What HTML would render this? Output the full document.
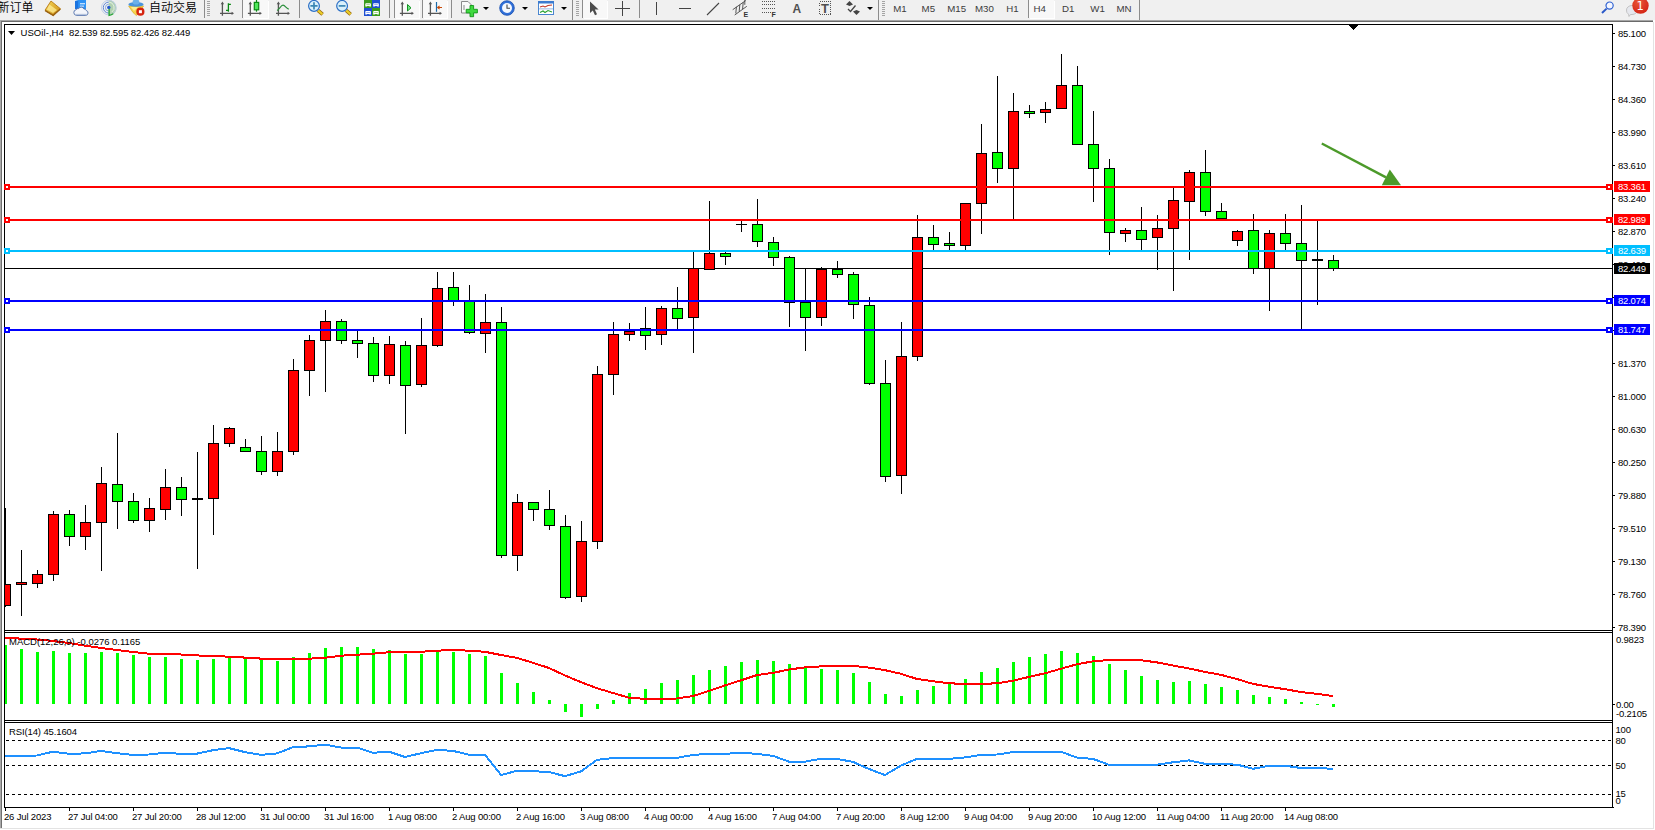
<!DOCTYPE html>
<html lang="zh"><head><meta charset="utf-8"><title>USOil H4</title>
<style>
html,body{margin:0;padding:0;background:#fff;}
body{width:1655px;height:830px;position:relative;overflow:hidden;font-family:"Liberation Sans","Noto Sans CJK SC",sans-serif;}
#tb{position:absolute;left:0;top:0;width:1655px;height:20px;background:#f0f0f0;overflow:hidden;}
#tb .t{position:absolute;white-space:nowrap;color:#000;}
#tb .sep{position:absolute;top:0;width:1px;height:18px;background:#8c8c8c;}
#tb .grip{position:absolute;top:1px;width:3px;height:16px;background:repeating-linear-gradient(#a4a4a4 0 1px,#f0f0f0 1px 2px);}
#tb .on{position:absolute;top:0;height:18px;background:#f8f8f8;box-shadow:1px 1px 0 #fff;}
#tb .tf{position:absolute;top:2.7px;font-size:9.7px;line-height:11px;color:#3c3c3c;}
</style></head><body>
<svg id="chart" width="1655" height="830" viewBox="0 0 1655 830" style="position:absolute;left:0;top:0">
<g shape-rendering="crispEdges">
<rect x="0" y="20" width="1653" height="1" fill="#a6a6a6"/>
<rect x="0" y="21" width="1653" height="1" fill="#6a6a6a"/>
<rect x="0" y="20" width="1" height="808" fill="#a9a9a9"/>
<rect x="1" y="21" width="1" height="807" fill="#707070"/>
<rect x="1653" y="22" width="1" height="807" fill="#e3e3e3"/>
<rect x="0" y="828" width="1654" height="1" fill="#e3e3e3"/>
<rect x="4" y="24" width="1609" height="1" fill="#000000"/>
<rect x="4" y="24" width="1" height="784" fill="#000000"/>
<rect x="1612" y="24" width="1" height="784" fill="#000000"/>
<rect x="4" y="630" width="1609" height="1" fill="#000000"/>
<rect x="4" y="632" width="1609" height="1" fill="#000000"/>
<rect x="4" y="720" width="1609" height="1" fill="#000000"/>
<rect x="4" y="722" width="1609" height="1" fill="#000000"/>
<rect x="4" y="807" width="1610" height="1" fill="#000000"/>
<rect x="5" y="631" width="1607" height="1" fill="#ffffff"/>
<rect x="5" y="721" width="1607" height="1" fill="#ffffff"/>
<rect x="1613" y="33" width="2" height="1" fill="#000000"/>
<rect x="1613" y="66" width="2" height="1" fill="#000000"/>
<rect x="1613" y="99" width="2" height="1" fill="#000000"/>
<rect x="1613" y="132" width="2" height="1" fill="#000000"/>
<rect x="1613" y="165" width="2" height="1" fill="#000000"/>
<rect x="1613" y="198" width="2" height="1" fill="#000000"/>
<rect x="1613" y="231" width="2" height="1" fill="#000000"/>
<rect x="1613" y="264" width="2" height="1" fill="#000000"/>
<rect x="1613" y="297" width="2" height="1" fill="#000000"/>
<rect x="1613" y="330" width="2" height="1" fill="#000000"/>
<rect x="1613" y="363" width="2" height="1" fill="#000000"/>
<rect x="1613" y="396" width="2" height="1" fill="#000000"/>
<rect x="1613" y="429" width="2" height="1" fill="#000000"/>
<rect x="1613" y="462" width="2" height="1" fill="#000000"/>
<rect x="1613" y="495" width="2" height="1" fill="#000000"/>
<rect x="1613" y="528" width="2" height="1" fill="#000000"/>
<rect x="1613" y="561" width="2" height="1" fill="#000000"/>
<rect x="1613" y="594" width="2" height="1" fill="#000000"/>
<rect x="1613" y="627" width="2" height="1" fill="#000000"/>
<polygon points="1349,25 1358,25 1353.5,30" fill="#000"/>
<rect x="5" y="268" width="1607" height="1" fill="#000000"/>
<rect x="5" y="508" width="1" height="99" fill="#000000"/>
<rect x="4" y="584" width="7" height="22" fill="#000000"/>
<rect x="5" y="585" width="5" height="20" fill="#ff0000"/>
<rect x="21" y="550" width="1" height="66" fill="#000000"/>
<rect x="16" y="582" width="11" height="3" fill="#000000"/>
<rect x="17" y="583" width="9" height="1" fill="#ff0000"/>
<rect x="37" y="570" width="1" height="18" fill="#000000"/>
<rect x="32" y="574" width="11" height="10" fill="#000000"/>
<rect x="33" y="575" width="9" height="8" fill="#ff0000"/>
<rect x="53" y="511" width="1" height="70" fill="#000000"/>
<rect x="48" y="514" width="11" height="61" fill="#000000"/>
<rect x="49" y="515" width="9" height="59" fill="#ff0000"/>
<rect x="69" y="510" width="1" height="36" fill="#000000"/>
<rect x="64" y="514" width="11" height="23" fill="#000000"/>
<rect x="65" y="515" width="9" height="21" fill="#00ff00"/>
<rect x="85" y="505" width="1" height="45" fill="#000000"/>
<rect x="80" y="522" width="11" height="15" fill="#000000"/>
<rect x="81" y="523" width="9" height="13" fill="#ff0000"/>
<rect x="101" y="467" width="1" height="104" fill="#000000"/>
<rect x="96" y="483" width="11" height="40" fill="#000000"/>
<rect x="97" y="484" width="9" height="38" fill="#ff0000"/>
<rect x="117" y="433" width="1" height="96" fill="#000000"/>
<rect x="112" y="484" width="11" height="18" fill="#000000"/>
<rect x="113" y="485" width="9" height="16" fill="#00ff00"/>
<rect x="133" y="493" width="1" height="30" fill="#000000"/>
<rect x="128" y="501" width="11" height="20" fill="#000000"/>
<rect x="129" y="502" width="9" height="18" fill="#00ff00"/>
<rect x="149" y="498" width="1" height="34" fill="#000000"/>
<rect x="144" y="508" width="11" height="13" fill="#000000"/>
<rect x="145" y="509" width="9" height="11" fill="#ff0000"/>
<rect x="165" y="469" width="1" height="51" fill="#000000"/>
<rect x="160" y="487" width="11" height="23" fill="#000000"/>
<rect x="161" y="488" width="9" height="21" fill="#ff0000"/>
<rect x="181" y="477" width="1" height="39" fill="#000000"/>
<rect x="176" y="487" width="11" height="13" fill="#000000"/>
<rect x="177" y="488" width="9" height="11" fill="#00ff00"/>
<rect x="197" y="452" width="1" height="117" fill="#000000"/>
<rect x="192" y="498" width="11" height="2" fill="#000000"/>
<rect x="213" y="425" width="1" height="110" fill="#000000"/>
<rect x="208" y="443" width="11" height="56" fill="#000000"/>
<rect x="209" y="444" width="9" height="54" fill="#ff0000"/>
<rect x="229" y="427" width="1" height="20" fill="#000000"/>
<rect x="224" y="428" width="11" height="16" fill="#000000"/>
<rect x="225" y="429" width="9" height="14" fill="#ff0000"/>
<rect x="245" y="439" width="1" height="13" fill="#000000"/>
<rect x="240" y="447" width="11" height="5" fill="#000000"/>
<rect x="241" y="448" width="9" height="3" fill="#00ff00"/>
<rect x="261" y="436" width="1" height="39" fill="#000000"/>
<rect x="256" y="451" width="11" height="21" fill="#000000"/>
<rect x="257" y="452" width="9" height="19" fill="#00ff00"/>
<rect x="277" y="432" width="1" height="44" fill="#000000"/>
<rect x="272" y="451" width="11" height="21" fill="#000000"/>
<rect x="273" y="452" width="9" height="19" fill="#ff0000"/>
<rect x="293" y="359" width="1" height="96" fill="#000000"/>
<rect x="288" y="370" width="11" height="82" fill="#000000"/>
<rect x="289" y="371" width="9" height="80" fill="#ff0000"/>
<rect x="309" y="335" width="1" height="61" fill="#000000"/>
<rect x="304" y="340" width="11" height="31" fill="#000000"/>
<rect x="305" y="341" width="9" height="29" fill="#ff0000"/>
<rect x="325" y="310" width="1" height="82" fill="#000000"/>
<rect x="320" y="321" width="11" height="20" fill="#000000"/>
<rect x="321" y="322" width="9" height="18" fill="#ff0000"/>
<rect x="341" y="319" width="1" height="25" fill="#000000"/>
<rect x="336" y="321" width="11" height="20" fill="#000000"/>
<rect x="337" y="322" width="9" height="18" fill="#00ff00"/>
<rect x="357" y="331" width="1" height="27" fill="#000000"/>
<rect x="352" y="340" width="11" height="4" fill="#000000"/>
<rect x="353" y="341" width="9" height="2" fill="#00ff00"/>
<rect x="373" y="337" width="1" height="45" fill="#000000"/>
<rect x="368" y="343" width="11" height="33" fill="#000000"/>
<rect x="369" y="344" width="9" height="31" fill="#00ff00"/>
<rect x="389" y="336" width="1" height="48" fill="#000000"/>
<rect x="384" y="344" width="11" height="32" fill="#000000"/>
<rect x="385" y="345" width="9" height="30" fill="#ff0000"/>
<rect x="405" y="341" width="1" height="93" fill="#000000"/>
<rect x="400" y="345" width="11" height="41" fill="#000000"/>
<rect x="401" y="346" width="9" height="39" fill="#00ff00"/>
<rect x="421" y="318" width="1" height="69" fill="#000000"/>
<rect x="416" y="345" width="11" height="40" fill="#000000"/>
<rect x="417" y="346" width="9" height="38" fill="#ff0000"/>
<rect x="437" y="272" width="1" height="75" fill="#000000"/>
<rect x="432" y="288" width="11" height="58" fill="#000000"/>
<rect x="433" y="289" width="9" height="56" fill="#ff0000"/>
<rect x="453" y="272" width="1" height="34" fill="#000000"/>
<rect x="448" y="287" width="11" height="14" fill="#000000"/>
<rect x="449" y="288" width="9" height="12" fill="#00ff00"/>
<rect x="469" y="285" width="1" height="49" fill="#000000"/>
<rect x="464" y="301" width="11" height="32" fill="#000000"/>
<rect x="465" y="302" width="9" height="30" fill="#00ff00"/>
<rect x="485" y="294" width="1" height="59" fill="#000000"/>
<rect x="480" y="322" width="11" height="12" fill="#000000"/>
<rect x="481" y="323" width="9" height="10" fill="#ff0000"/>
<rect x="501" y="307" width="1" height="251" fill="#000000"/>
<rect x="496" y="322" width="11" height="234" fill="#000000"/>
<rect x="497" y="323" width="9" height="232" fill="#00ff00"/>
<rect x="517" y="494" width="1" height="77" fill="#000000"/>
<rect x="512" y="502" width="11" height="54" fill="#000000"/>
<rect x="513" y="503" width="9" height="52" fill="#ff0000"/>
<rect x="533" y="502" width="1" height="19" fill="#000000"/>
<rect x="528" y="502" width="11" height="8" fill="#000000"/>
<rect x="529" y="503" width="9" height="6" fill="#00ff00"/>
<rect x="549" y="490" width="1" height="40" fill="#000000"/>
<rect x="544" y="509" width="11" height="17" fill="#000000"/>
<rect x="545" y="510" width="9" height="15" fill="#00ff00"/>
<rect x="565" y="515" width="1" height="84" fill="#000000"/>
<rect x="560" y="526" width="11" height="72" fill="#000000"/>
<rect x="561" y="527" width="9" height="70" fill="#00ff00"/>
<rect x="581" y="521" width="1" height="81" fill="#000000"/>
<rect x="576" y="541" width="11" height="56" fill="#000000"/>
<rect x="577" y="542" width="9" height="54" fill="#ff0000"/>
<rect x="597" y="366" width="1" height="183" fill="#000000"/>
<rect x="592" y="374" width="11" height="168" fill="#000000"/>
<rect x="593" y="375" width="9" height="166" fill="#ff0000"/>
<rect x="613" y="322" width="1" height="73" fill="#000000"/>
<rect x="608" y="334" width="11" height="41" fill="#000000"/>
<rect x="609" y="335" width="9" height="39" fill="#ff0000"/>
<rect x="629" y="323" width="1" height="18" fill="#000000"/>
<rect x="624" y="331" width="11" height="4" fill="#000000"/>
<rect x="625" y="332" width="9" height="2" fill="#ff0000"/>
<rect x="645" y="307" width="1" height="43" fill="#000000"/>
<rect x="640" y="328" width="11" height="8" fill="#000000"/>
<rect x="641" y="329" width="9" height="6" fill="#00ff00"/>
<rect x="661" y="306" width="1" height="39" fill="#000000"/>
<rect x="656" y="308" width="11" height="27" fill="#000000"/>
<rect x="657" y="309" width="9" height="25" fill="#ff0000"/>
<rect x="677" y="287" width="1" height="43" fill="#000000"/>
<rect x="672" y="308" width="11" height="11" fill="#000000"/>
<rect x="673" y="309" width="9" height="9" fill="#00ff00"/>
<rect x="693" y="252" width="1" height="101" fill="#000000"/>
<rect x="688" y="268" width="11" height="50" fill="#000000"/>
<rect x="689" y="269" width="9" height="48" fill="#ff0000"/>
<rect x="709" y="201" width="1" height="69" fill="#000000"/>
<rect x="704" y="253" width="11" height="17" fill="#000000"/>
<rect x="705" y="254" width="9" height="15" fill="#ff0000"/>
<rect x="725" y="251" width="1" height="14" fill="#000000"/>
<rect x="720" y="253" width="11" height="4" fill="#000000"/>
<rect x="721" y="254" width="9" height="2" fill="#00ff00"/>
<rect x="741" y="221" width="1" height="11" fill="#000000"/>
<rect x="736" y="224" width="11" height="1" fill="#000000"/>
<rect x="757" y="199" width="1" height="48" fill="#000000"/>
<rect x="752" y="224" width="11" height="18" fill="#000000"/>
<rect x="753" y="225" width="9" height="16" fill="#00ff00"/>
<rect x="773" y="237" width="1" height="29" fill="#000000"/>
<rect x="768" y="242" width="11" height="16" fill="#000000"/>
<rect x="769" y="243" width="9" height="14" fill="#00ff00"/>
<rect x="789" y="256" width="1" height="71" fill="#000000"/>
<rect x="784" y="257" width="11" height="46" fill="#000000"/>
<rect x="785" y="258" width="9" height="44" fill="#00ff00"/>
<rect x="805" y="269" width="1" height="82" fill="#000000"/>
<rect x="800" y="302" width="11" height="16" fill="#000000"/>
<rect x="801" y="303" width="9" height="14" fill="#00ff00"/>
<rect x="821" y="267" width="1" height="59" fill="#000000"/>
<rect x="816" y="269" width="11" height="49" fill="#000000"/>
<rect x="817" y="270" width="9" height="47" fill="#ff0000"/>
<rect x="837" y="261" width="1" height="17" fill="#000000"/>
<rect x="832" y="269" width="11" height="6" fill="#000000"/>
<rect x="833" y="270" width="9" height="4" fill="#00ff00"/>
<rect x="853" y="272" width="1" height="47" fill="#000000"/>
<rect x="848" y="274" width="11" height="31" fill="#000000"/>
<rect x="849" y="275" width="9" height="29" fill="#00ff00"/>
<rect x="869" y="297" width="1" height="88" fill="#000000"/>
<rect x="864" y="305" width="11" height="79" fill="#000000"/>
<rect x="865" y="306" width="9" height="77" fill="#00ff00"/>
<rect x="885" y="360" width="1" height="122" fill="#000000"/>
<rect x="880" y="383" width="11" height="94" fill="#000000"/>
<rect x="881" y="384" width="9" height="92" fill="#00ff00"/>
<rect x="901" y="322" width="1" height="172" fill="#000000"/>
<rect x="896" y="356" width="11" height="120" fill="#000000"/>
<rect x="897" y="357" width="9" height="118" fill="#ff0000"/>
<rect x="917" y="215" width="1" height="146" fill="#000000"/>
<rect x="912" y="237" width="11" height="120" fill="#000000"/>
<rect x="913" y="238" width="9" height="118" fill="#ff0000"/>
<rect x="933" y="225" width="1" height="25" fill="#000000"/>
<rect x="928" y="237" width="11" height="8" fill="#000000"/>
<rect x="929" y="238" width="9" height="6" fill="#00ff00"/>
<rect x="949" y="232" width="1" height="18" fill="#000000"/>
<rect x="944" y="243" width="11" height="3" fill="#000000"/>
<rect x="945" y="244" width="9" height="1" fill="#00ff00"/>
<rect x="965" y="203" width="1" height="47" fill="#000000"/>
<rect x="960" y="203" width="11" height="43" fill="#000000"/>
<rect x="961" y="204" width="9" height="41" fill="#ff0000"/>
<rect x="981" y="124" width="1" height="110" fill="#000000"/>
<rect x="976" y="153" width="11" height="51" fill="#000000"/>
<rect x="977" y="154" width="9" height="49" fill="#ff0000"/>
<rect x="997" y="76" width="1" height="107" fill="#000000"/>
<rect x="992" y="152" width="11" height="17" fill="#000000"/>
<rect x="993" y="153" width="9" height="15" fill="#00ff00"/>
<rect x="1013" y="93" width="1" height="126" fill="#000000"/>
<rect x="1008" y="111" width="11" height="58" fill="#000000"/>
<rect x="1009" y="112" width="9" height="56" fill="#ff0000"/>
<rect x="1029" y="105" width="1" height="13" fill="#000000"/>
<rect x="1024" y="111" width="11" height="3" fill="#000000"/>
<rect x="1025" y="112" width="9" height="1" fill="#00ff00"/>
<rect x="1045" y="102" width="1" height="21" fill="#000000"/>
<rect x="1040" y="109" width="11" height="4" fill="#000000"/>
<rect x="1041" y="110" width="9" height="2" fill="#ff0000"/>
<rect x="1061" y="54" width="1" height="55" fill="#000000"/>
<rect x="1056" y="85" width="11" height="24" fill="#000000"/>
<rect x="1057" y="86" width="9" height="22" fill="#ff0000"/>
<rect x="1077" y="66" width="1" height="79" fill="#000000"/>
<rect x="1072" y="85" width="11" height="60" fill="#000000"/>
<rect x="1073" y="86" width="9" height="58" fill="#00ff00"/>
<rect x="1093" y="111" width="1" height="91" fill="#000000"/>
<rect x="1088" y="144" width="11" height="25" fill="#000000"/>
<rect x="1089" y="145" width="9" height="23" fill="#00ff00"/>
<rect x="1109" y="159" width="1" height="96" fill="#000000"/>
<rect x="1104" y="168" width="11" height="65" fill="#000000"/>
<rect x="1105" y="169" width="9" height="63" fill="#00ff00"/>
<rect x="1125" y="228" width="1" height="14" fill="#000000"/>
<rect x="1120" y="230" width="11" height="4" fill="#000000"/>
<rect x="1121" y="231" width="9" height="2" fill="#ff0000"/>
<rect x="1141" y="207" width="1" height="43" fill="#000000"/>
<rect x="1136" y="230" width="11" height="10" fill="#000000"/>
<rect x="1137" y="231" width="9" height="8" fill="#00ff00"/>
<rect x="1157" y="215" width="1" height="55" fill="#000000"/>
<rect x="1152" y="228" width="11" height="10" fill="#000000"/>
<rect x="1153" y="229" width="9" height="8" fill="#ff0000"/>
<rect x="1173" y="188" width="1" height="103" fill="#000000"/>
<rect x="1168" y="200" width="11" height="29" fill="#000000"/>
<rect x="1169" y="201" width="9" height="27" fill="#ff0000"/>
<rect x="1189" y="170" width="1" height="90" fill="#000000"/>
<rect x="1184" y="172" width="11" height="30" fill="#000000"/>
<rect x="1185" y="173" width="9" height="28" fill="#ff0000"/>
<rect x="1205" y="150" width="1" height="66" fill="#000000"/>
<rect x="1200" y="172" width="11" height="40" fill="#000000"/>
<rect x="1201" y="173" width="9" height="38" fill="#00ff00"/>
<rect x="1221" y="203" width="1" height="16" fill="#000000"/>
<rect x="1216" y="211" width="11" height="8" fill="#000000"/>
<rect x="1217" y="212" width="9" height="6" fill="#00ff00"/>
<rect x="1237" y="230" width="1" height="16" fill="#000000"/>
<rect x="1232" y="231" width="11" height="10" fill="#000000"/>
<rect x="1233" y="232" width="9" height="8" fill="#ff0000"/>
<rect x="1253" y="214" width="1" height="60" fill="#000000"/>
<rect x="1248" y="230" width="11" height="39" fill="#000000"/>
<rect x="1249" y="231" width="9" height="37" fill="#00ff00"/>
<rect x="1269" y="230" width="1" height="81" fill="#000000"/>
<rect x="1264" y="233" width="11" height="36" fill="#000000"/>
<rect x="1265" y="234" width="9" height="34" fill="#ff0000"/>
<rect x="1285" y="214" width="1" height="36" fill="#000000"/>
<rect x="1280" y="233" width="11" height="11" fill="#000000"/>
<rect x="1281" y="234" width="9" height="9" fill="#00ff00"/>
<rect x="1301" y="205" width="1" height="124" fill="#000000"/>
<rect x="1296" y="243" width="11" height="18" fill="#000000"/>
<rect x="1297" y="244" width="9" height="16" fill="#00ff00"/>
<rect x="1317" y="221" width="1" height="84" fill="#000000"/>
<rect x="1312" y="259" width="11" height="2" fill="#000000"/>
<rect x="1333" y="255" width="1" height="16" fill="#000000"/>
<rect x="1328" y="260" width="11" height="9" fill="#000000"/>
<rect x="1329" y="261" width="9" height="7" fill="#00ff00"/>
<rect x="5" y="186" width="1607" height="2" fill="#ff0000"/>
<rect x="4" y="184" width="6" height="6" fill="#ff0000"/>
<rect x="6" y="186" width="2" height="2" fill="#fff"/>
<rect x="1606" y="184" width="7" height="6" fill="#ff0000"/>
<rect x="1608" y="186" width="2" height="2" fill="#fff"/>
<rect x="5" y="219" width="1607" height="2" fill="#ff0000"/>
<rect x="4" y="217" width="6" height="6" fill="#ff0000"/>
<rect x="6" y="219" width="2" height="2" fill="#fff"/>
<rect x="1606" y="217" width="7" height="6" fill="#ff0000"/>
<rect x="1608" y="219" width="2" height="2" fill="#fff"/>
<rect x="5" y="250" width="1607" height="2" fill="#00bfff"/>
<rect x="4" y="248" width="6" height="6" fill="#00bfff"/>
<rect x="6" y="250" width="2" height="2" fill="#fff"/>
<rect x="1606" y="248" width="7" height="6" fill="#00bfff"/>
<rect x="1608" y="250" width="2" height="2" fill="#fff"/>
<rect x="5" y="300" width="1607" height="2" fill="#0000ff"/>
<rect x="4" y="298" width="6" height="6" fill="#0000ff"/>
<rect x="6" y="300" width="2" height="2" fill="#fff"/>
<rect x="1606" y="298" width="7" height="6" fill="#0000ff"/>
<rect x="1608" y="300" width="2" height="2" fill="#fff"/>
<rect x="5" y="329" width="1607" height="2" fill="#0000ff"/>
<rect x="4" y="327" width="6" height="6" fill="#0000ff"/>
<rect x="6" y="329" width="2" height="2" fill="#fff"/>
<rect x="1606" y="327" width="7" height="6" fill="#0000ff"/>
<rect x="1608" y="329" width="2" height="2" fill="#fff"/>
<rect x="5" y="645" width="2" height="59" fill="#00ff00"/>
<rect x="20" y="649" width="3" height="55" fill="#00ff00"/>
<rect x="36" y="652" width="3" height="52" fill="#00ff00"/>
<rect x="52" y="651" width="3" height="53" fill="#00ff00"/>
<rect x="68" y="653" width="3" height="51" fill="#00ff00"/>
<rect x="84" y="653" width="3" height="51" fill="#00ff00"/>
<rect x="100" y="652" width="3" height="52" fill="#00ff00"/>
<rect x="116" y="653" width="3" height="51" fill="#00ff00"/>
<rect x="132" y="655" width="3" height="49" fill="#00ff00"/>
<rect x="148" y="657" width="3" height="47" fill="#00ff00"/>
<rect x="164" y="657" width="3" height="47" fill="#00ff00"/>
<rect x="180" y="659" width="3" height="45" fill="#00ff00"/>
<rect x="196" y="660" width="3" height="44" fill="#00ff00"/>
<rect x="212" y="659" width="3" height="45" fill="#00ff00"/>
<rect x="228" y="657" width="3" height="47" fill="#00ff00"/>
<rect x="244" y="658" width="3" height="46" fill="#00ff00"/>
<rect x="260" y="660" width="3" height="44" fill="#00ff00"/>
<rect x="276" y="661" width="3" height="43" fill="#00ff00"/>
<rect x="292" y="657" width="3" height="47" fill="#00ff00"/>
<rect x="308" y="653" width="3" height="51" fill="#00ff00"/>
<rect x="324" y="648" width="3" height="56" fill="#00ff00"/>
<rect x="340" y="647" width="3" height="57" fill="#00ff00"/>
<rect x="356" y="647" width="3" height="57" fill="#00ff00"/>
<rect x="372" y="649" width="3" height="55" fill="#00ff00"/>
<rect x="388" y="650" width="3" height="54" fill="#00ff00"/>
<rect x="404" y="654" width="3" height="50" fill="#00ff00"/>
<rect x="420" y="654" width="3" height="50" fill="#00ff00"/>
<rect x="436" y="652" width="3" height="52" fill="#00ff00"/>
<rect x="452" y="652" width="3" height="52" fill="#00ff00"/>
<rect x="468" y="654" width="3" height="50" fill="#00ff00"/>
<rect x="484" y="656" width="3" height="48" fill="#00ff00"/>
<rect x="500" y="673" width="3" height="31" fill="#00ff00"/>
<rect x="516" y="683" width="3" height="21" fill="#00ff00"/>
<rect x="532" y="692" width="3" height="12" fill="#00ff00"/>
<rect x="548" y="700" width="3" height="4" fill="#00ff00"/>
<rect x="612" y="700" width="3" height="4" fill="#00ff00"/>
<rect x="628" y="693" width="3" height="11" fill="#00ff00"/>
<rect x="644" y="689" width="3" height="15" fill="#00ff00"/>
<rect x="660" y="683" width="3" height="21" fill="#00ff00"/>
<rect x="676" y="680" width="3" height="24" fill="#00ff00"/>
<rect x="692" y="675" width="3" height="29" fill="#00ff00"/>
<rect x="708" y="670" width="3" height="34" fill="#00ff00"/>
<rect x="724" y="666" width="3" height="38" fill="#00ff00"/>
<rect x="740" y="662" width="3" height="42" fill="#00ff00"/>
<rect x="756" y="660" width="3" height="44" fill="#00ff00"/>
<rect x="772" y="661" width="3" height="43" fill="#00ff00"/>
<rect x="788" y="664" width="3" height="40" fill="#00ff00"/>
<rect x="804" y="667" width="3" height="37" fill="#00ff00"/>
<rect x="820" y="669" width="3" height="35" fill="#00ff00"/>
<rect x="836" y="670" width="3" height="34" fill="#00ff00"/>
<rect x="852" y="673" width="3" height="31" fill="#00ff00"/>
<rect x="868" y="682" width="3" height="22" fill="#00ff00"/>
<rect x="884" y="694" width="3" height="10" fill="#00ff00"/>
<rect x="900" y="696" width="3" height="8" fill="#00ff00"/>
<rect x="916" y="690" width="3" height="14" fill="#00ff00"/>
<rect x="932" y="686" width="3" height="18" fill="#00ff00"/>
<rect x="948" y="684" width="3" height="20" fill="#00ff00"/>
<rect x="964" y="679" width="3" height="25" fill="#00ff00"/>
<rect x="980" y="672" width="3" height="32" fill="#00ff00"/>
<rect x="996" y="668" width="3" height="36" fill="#00ff00"/>
<rect x="1012" y="662" width="3" height="42" fill="#00ff00"/>
<rect x="1028" y="657" width="3" height="47" fill="#00ff00"/>
<rect x="1044" y="654" width="3" height="50" fill="#00ff00"/>
<rect x="1060" y="651" width="3" height="53" fill="#00ff00"/>
<rect x="1076" y="653" width="3" height="51" fill="#00ff00"/>
<rect x="1092" y="656" width="3" height="48" fill="#00ff00"/>
<rect x="1108" y="664" width="3" height="40" fill="#00ff00"/>
<rect x="1124" y="670" width="3" height="34" fill="#00ff00"/>
<rect x="1140" y="676" width="3" height="28" fill="#00ff00"/>
<rect x="1156" y="680" width="3" height="24" fill="#00ff00"/>
<rect x="1172" y="682" width="3" height="22" fill="#00ff00"/>
<rect x="1188" y="681" width="3" height="23" fill="#00ff00"/>
<rect x="1204" y="684" width="3" height="20" fill="#00ff00"/>
<rect x="1220" y="687" width="3" height="17" fill="#00ff00"/>
<rect x="1236" y="690" width="3" height="14" fill="#00ff00"/>
<rect x="1252" y="695" width="3" height="9" fill="#00ff00"/>
<rect x="1268" y="697" width="3" height="7" fill="#00ff00"/>
<rect x="1284" y="699" width="3" height="5" fill="#00ff00"/>
<rect x="1300" y="702" width="3" height="2" fill="#00ff00"/>
<rect x="564" y="704" width="3" height="8" fill="#00ff00"/>
<rect x="580" y="704" width="3" height="13" fill="#00ff00"/>
<rect x="596" y="704" width="3" height="5" fill="#00ff00"/>
<rect x="1316" y="704" width="3" height="1" fill="#00ff00"/>
<rect x="1332" y="704" width="3" height="3" fill="#00ff00"/>
<line x1="6" y1="740.5" x2="1612" y2="740.5" stroke="#000" stroke-width="1" stroke-dasharray="3 3"/>
<line x1="6" y1="765.5" x2="1612" y2="765.5" stroke="#000" stroke-width="1" stroke-dasharray="3 3"/>
<line x1="6" y1="794.5" x2="1612" y2="794.5" stroke="#000" stroke-width="1" stroke-dasharray="3 3"/>
<rect x="5" y="808" width="1" height="3" fill="#000000"/>
<rect x="69" y="808" width="1" height="3" fill="#000000"/>
<rect x="133" y="808" width="1" height="3" fill="#000000"/>
<rect x="197" y="808" width="1" height="3" fill="#000000"/>
<rect x="261" y="808" width="1" height="3" fill="#000000"/>
<rect x="325" y="808" width="1" height="3" fill="#000000"/>
<rect x="389" y="808" width="1" height="3" fill="#000000"/>
<rect x="453" y="808" width="1" height="3" fill="#000000"/>
<rect x="517" y="808" width="1" height="3" fill="#000000"/>
<rect x="581" y="808" width="1" height="3" fill="#000000"/>
<rect x="645" y="808" width="1" height="3" fill="#000000"/>
<rect x="709" y="808" width="1" height="3" fill="#000000"/>
<rect x="773" y="808" width="1" height="3" fill="#000000"/>
<rect x="837" y="808" width="1" height="3" fill="#000000"/>
<rect x="901" y="808" width="1" height="3" fill="#000000"/>
<rect x="965" y="808" width="1" height="3" fill="#000000"/>
<rect x="1029" y="808" width="1" height="3" fill="#000000"/>
<rect x="1093" y="808" width="1" height="3" fill="#000000"/>
<rect x="1157" y="808" width="1" height="3" fill="#000000"/>
<rect x="1221" y="808" width="1" height="3" fill="#000000"/>
<rect x="1285" y="808" width="1" height="3" fill="#000000"/>
</g>
<polyline fill="none" stroke="#ff0000" stroke-width="2" shape-rendering="crispEdges" points="5,638 21,638.6 37,639.5 53,641 69,643 85,645.6 101,648 117,650 133,652 149,653.7 165,654.2 181,654.5 197,655.4 213,656.2 229,656.6 245,657.6 261,658.6 277,659 293,659 309,658.7 325,657.7 341,655.7 357,654.7 373,653.7 389,652.2 405,652 421,651.8 437,650.7 453,649.9 469,650.7 485,651.8 501,655 517,657.9 533,662.8 549,668 565,675.5 581,682.2 597,688.2 613,693 629,697.7 645,698.9 661,698.9 677,698.5 693,696 709,690.9 725,685.4 741,680.3 757,675 773,672.9 789,669.5 805,667.4 821,666.4 837,665.9 853,665.9 869,667.6 885,670.2 901,673.8 917,679 933,681.2 949,683.3 965,683.9 981,683.9 997,683.3 1013,680.7 1029,676.9 1045,673.3 1061,668.7 1077,664.3 1093,661.3 1109,660 1125,659.8 1141,660.2 1157,662.4 1173,665.5 1189,668.5 1205,671.9 1221,674.8 1237,679.1 1253,683.9 1269,686.7 1285,689.2 1301,692 1317,693.9 1333,696"/>
<polyline fill="none" stroke="#1e90ff" stroke-width="2" shape-rendering="crispEdges" points="5,755.9 21,755.7 37,755.5 53,751.7 69,753.8 85,753.4 101,750.9 117,753.2 133,754.9 149,754.5 165,752.8 181,753.8 197,753.6 213,750.2 229,748.1 245,752.1 261,754.9 277,753.4 293,747.1 309,746.4 325,744.7 341,747.5 357,747.5 373,752.8 389,751.7 405,757 421,753.2 437,749.8 453,750.9 469,754.7 485,754.7 501,775 517,770.8 533,771.2 549,772 565,776.2 581,771.4 597,759.8 613,758.1 629,757.9 645,757.9 661,757.9 677,757.9 693,754.9 709,753.8 725,753.8 741,752.8 757,753.8 773,755.9 789,761.7 805,761.7 821,758.7 837,758.9 853,761.9 869,769 885,775 901,765.5 917,758.9 933,758.9 949,758.9 965,757.4 981,754.9 997,754.5 1013,752.1 1029,751.7 1045,751.7 1061,751.7 1077,757.6 1093,758.9 1109,764.8 1125,764.8 1141,764.8 1157,764.6 1173,762.3 1189,760.4 1205,763.8 1221,764.2 1237,764.6 1253,768.8 1269,765.7 1285,765.7 1301,768 1317,768 1333,768.8"/>
<line x1="1321.8" y1="143.5" x2="1386" y2="177.4" stroke="#4c9a2a" stroke-width="2.4"/>
<polygon points="1389.8,169.5 1381.8,185.2 1401,185.2" fill="#4c9a2a"/>
<g font-family="'Liberation Sans', sans-serif" font-size="9.5" letter-spacing="-0.2">
<text x="1618" y="37" fill="#000">85.100</text>
<text x="1618" y="70" fill="#000">84.730</text>
<text x="1618" y="103" fill="#000">84.360</text>
<text x="1618" y="136" fill="#000">83.990</text>
<text x="1618" y="169" fill="#000">83.610</text>
<text x="1618" y="202" fill="#000">83.240</text>
<text x="1618" y="235" fill="#000">82.870</text>
<text x="1618" y="268" fill="#000">82.490</text>
<text x="1618" y="301" fill="#000">82.120</text>
<text x="1618" y="334" fill="#000">81.750</text>
<text x="1618" y="367" fill="#000">81.370</text>
<text x="1618" y="400" fill="#000">81.000</text>
<text x="1618" y="433" fill="#000">80.630</text>
<text x="1618" y="466" fill="#000">80.250</text>
<text x="1618" y="499" fill="#000">79.880</text>
<text x="1618" y="532" fill="#000">79.510</text>
<text x="1618" y="565" fill="#000">79.130</text>
<text x="1618" y="598" fill="#000">78.760</text>
<text x="1618" y="631" fill="#000">78.390</text>
<rect x="1614" y="181" width="36" height="11" fill="#ff0000" shape-rendering="crispEdges"/>
<text x="1618" y="190" fill="#fff">83.361</text>
<rect x="1614" y="214" width="36" height="11" fill="#ff0000" shape-rendering="crispEdges"/>
<text x="1618" y="223" fill="#fff">82.989</text>
<rect x="1614" y="245" width="36" height="11" fill="#00bfff" shape-rendering="crispEdges"/>
<text x="1618" y="254" fill="#fff">82.639</text>
<rect x="1614" y="263" width="36" height="11" fill="#000000" shape-rendering="crispEdges"/>
<text x="1618" y="272" fill="#fff">82.449</text>
<rect x="1614" y="295" width="36" height="11" fill="#0000ff" shape-rendering="crispEdges"/>
<text x="1618" y="304" fill="#fff">82.074</text>
<rect x="1614" y="324" width="36" height="11" fill="#0000ff" shape-rendering="crispEdges"/>
<text x="1618" y="333" fill="#fff">81.747</text>
<text x="1616" y="642.5" fill="#000">0.9823</text>
<text x="1616" y="707.5" fill="#000">0.00</text>
<text x="1616" y="717" fill="#000">-0.2105</text>
<text x="1615.5" y="733" fill="#000">100</text>
<text x="1615.5" y="744" fill="#000">80</text>
<text x="1615.5" y="768.5" fill="#000">50</text>
<text x="1615.5" y="797" fill="#000">15</text>
<text x="1615.5" y="804" fill="#000">0</text>
</g>
<g shape-rendering="crispEdges">
<rect x="1613" y="704" width="2" height="1" fill="#000000"/>
</g>
<g font-family="'Liberation Sans', sans-serif" font-size="9.5" letter-spacing="-0.17" fill="#000">
<polygon points="8,31 15,31 11.5,35" fill="#000"/>
<text x="20.5" y="36" letter-spacing="0.07">USOil-,H4</text><text x="69" y="36" letter-spacing="-0.11">82.539 82.595 82.426 82.449</text>
<text x="9" y="645" letter-spacing="-0.02">MACD(12,26,9) -0.0276 0.1165</text>
<text x="9" y="735" letter-spacing="-0.12">RSI(14) 45.1604</text>
<text x="4" y="820">26 Jul 2023</text>
<text x="68" y="820">27 Jul 04:00</text>
<text x="132" y="820">27 Jul 20:00</text>
<text x="196" y="820">28 Jul 12:00</text>
<text x="260" y="820">31 Jul 00:00</text>
<text x="324" y="820">31 Jul 16:00</text>
<text x="388" y="820">1 Aug 08:00</text>
<text x="452" y="820">2 Aug 00:00</text>
<text x="516" y="820">2 Aug 16:00</text>
<text x="580" y="820">3 Aug 08:00</text>
<text x="644" y="820">4 Aug 00:00</text>
<text x="708" y="820">4 Aug 16:00</text>
<text x="772" y="820">7 Aug 04:00</text>
<text x="836" y="820">7 Aug 20:00</text>
<text x="900" y="820">8 Aug 12:00</text>
<text x="964" y="820">9 Aug 04:00</text>
<text x="1028" y="820">9 Aug 20:00</text>
<text x="1092" y="820">10 Aug 12:00</text>
<text x="1156" y="820">11 Aug 04:00</text>
<text x="1220" y="820">11 Aug 20:00</text>
<text x="1284" y="820">14 Aug 08:00</text>
</g>
</svg>
<div id="tb">
<div class="on" style="left:243px;width:25px"></div>
<div class="on" style="left:395px;width:24px"></div>
<div class="on" style="left:423px;width:24px"></div>
<div class="on" style="left:583px;width:24px"></div>
<div class="on" style="left:1029px;width:25px"></div>
<div class="t" style="left:-2.5px;top:-2px;font-size:12px;font-weight:350;">新订单</div>
<div class="t" style="left:149px;top:-2px;font-size:12px;font-weight:350;">自动交易</div>
<div class="sep" style="left:204px"></div><div class="grip" style="left:207px"></div>
<div class="sep" style="left:242px"></div>
<div class="sep" style="left:299px"></div>
<div class="sep" style="left:389px"></div><div class="sep" style="left:394px"></div>
<div class="sep" style="left:422px"></div>
<div class="sep" style="left:451px"></div>
<div class="sep" style="left:572px;height:20px"></div><div class="grip" style="left:576px"></div><div class="sep" style="left:582px"></div>
<div class="sep" style="left:639px"></div>
<div class="sep" style="left:878px;top:0;height:20px"></div><div class="grip" style="left:882px"></div>
<div class="sep" style="left:1028px"></div>
<div class="sep" style="left:1139px;top:0;height:20px"></div>
<div class="tf" style="left:893.2px">M1</div>
<div class="tf" style="left:921.6px">M5</div>
<div class="tf" style="left:947.2px">M15</div>
<div class="tf" style="left:975px">M30</div>
<div class="tf" style="left:1006.2px">H1</div>
<div class="tf" style="left:1033.4px">H4</div>
<div class="tf" style="left:1062px">D1</div>
<div class="tf" style="left:1090.3px">W1</div>
<div class="tf" style="left:1116.5px">MN</div>
<div class="t" style="left:792.5px;top:1.5px;font-size:12px;color:#505050;font-weight:bold;">A</div>
<div class="t" style="left:821px;top:1px;font-size:13px;color:#505050;font-weight:bold;">T</div>
<div class="t" style="left:1636.6px;top:-1.5px;font-size:11.5px;line-height:14px;color:#fff;z-index:3;font-weight:normal;font-family:'DejaVu Sans','Liberation Sans',sans-serif;">1</div>
<svg width="1655" height="20" viewBox="0 0 1655 20" style="position:absolute;left:0;top:0">
<defs>
<linearGradient id="gold" x1="0" y1="0" x2="1" y2="1"><stop offset="0" stop-color="#f7d95a"/><stop offset="1" stop-color="#c98a12"/></linearGradient>
<linearGradient id="blu" x1="0" y1="0" x2="0" y2="1"><stop offset="0" stop-color="#5ab0ff"/><stop offset="1" stop-color="#1669d8"/></linearGradient>
<radialGradient id="redg" cx="0.4" cy="0.3" r="0.8"><stop offset="0" stop-color="#e8573a"/><stop offset="1" stop-color="#d21f10"/></radialGradient>
</defs>
<!-- gold book -->
<polygon points="51,1 60.5,8.8 53.2,15.6 45,10.2" fill="url(#gold)" stroke="#b97a14" stroke-width="0.9"/>
<polygon points="49.5,4.5 57,10 53,13 46.8,9.6" fill="#ffef9a" opacity="0.75"/>
<polyline points="45.2,10.6 53.2,15.4 60.3,9" fill="none" stroke="#9a6212" stroke-width="1.5"/>
<!-- server + cloud -->
<polygon points="75,1 78,0 86,0 86,9 75,9" fill="#2f93f5"/>
<rect x="75" y="1" width="3.2" height="8" fill="#1b74e0"/>
<rect x="80" y="3.2" width="5" height="1.1" fill="#e4f1ff"/><rect x="80" y="5.6" width="4" height="1.1" fill="#cfe6ff"/>
<path d="M76.3,15.4 a2.9,2.9 0 0 1 -0.2,-5.7 a2.6,2.6 0 0 1 2.6,-1.2 a3,3 0 0 1 5.2,0.4 a2.4,2.4 0 0 1 2.3,1.6 a2.5,2.5 0 0 1 -0.4,4.9 z" fill="#f4f6fb" stroke="#4f6eaa" stroke-width="0.9"/>
<path d="M75.6,14.4 h11.4" stroke="#b4c2dc" stroke-width="1.1"/>
<!-- signal -->
<path d="M108.8,7.6 L108.8,0.2 A7.6,7.6 0 0 1 112.5,14.4 L109.2,15.6 Z" fill="#9cc79c" opacity="0.75"/>
<g fill="none">
<circle cx="108.8" cy="7.6" r="7.3" stroke="#b9c9e6" stroke-width="0.9"/>
<path d="M108.8,13.1 a5.5,5.5 0 0 1 0,-11" stroke="#5d86d6" stroke-width="1"/>
<path d="M108.8,11 a3.4,3.4 0 0 1 0,-6.8" stroke="#7d9fe0" stroke-width="0.9"/>
<path d="M108.8,2.1 a5.5,5.5 0 0 1 3,10" stroke="#e8f2e8" stroke-width="0.9"/>
<path d="M109.1,8 V15.4 q2.6,-0.3 4.2,-1.8" stroke="#1fa32a" stroke-width="1.3"/>
</g>
<circle cx="108.8" cy="7.4" r="1.7" fill="#2458cc"/>
<!-- expert hat -->
<polygon points="128.6,6 143.6,6 140,11 136.4,15.6 133,12.5" fill="#f6d54c" stroke="#d1a21e" stroke-width="0.6"/>
<polygon points="131,7 138,7 134,11" fill="#fff3a8" opacity="0.8"/>
<ellipse cx="136" cy="4.4" rx="7.6" ry="2.4" fill="#4a94dc"/>
<ellipse cx="136" cy="2" rx="3.4" ry="2.6" fill="#6bb0ea"/>
<circle cx="140.4" cy="11.7" r="4.1" fill="#d5230f"/><rect x="138.9" y="10.2" width="3" height="3" fill="#fff"/>
<!-- chart-type icons axes -->
<g stroke="#555" stroke-width="1.3" fill="none">
<path d="M222.4,3 V15.8 M220.0,13.3 H232.4"/><path d="M250.3,3 V15.8 M247.9,13.3 H260.3"/><path d="M278.4,3 V15.8 M276.0,13.3 H288.4"/><path d="M402.3,3 V15.8 M399.90000000000003,13.3 H412.3"/><path d="M430.4,3 V15.8 M428.0,13.3 H440.4"/>
</g>
<g fill="#555">
<polygon points="220.70000000000002,4.2 222.4,1.6 224.1,4.2"/><polygon points="231.6,11.7 234.0,13.3 231.6,14.9"/><polygon points="248.60000000000002,4.2 250.3,1.6 252.0,4.2"/><polygon points="259.5,11.7 261.90000000000003,13.3 259.5,14.9"/><polygon points="276.7,4.2 278.4,1.6 280.09999999999997,4.2"/><polygon points="287.59999999999997,11.7 290.0,13.3 287.59999999999997,14.9"/><polygon points="400.6,4.2 402.3,1.6 404.0,4.2"/><polygon points="411.5,11.7 413.90000000000003,13.3 411.5,14.9"/><polygon points="428.7,4.2 430.4,1.6 432.09999999999997,4.2"/><polygon points="439.59999999999997,11.7 442.0,13.3 439.59999999999997,14.9"/>
</g>
<path d="M230.9,4.4 H228.4 M228.4,3.3 V11.7 M228.4,10.4 H226" fill="none" stroke="#0a8a14" stroke-width="1.3"/>
<line x1="256.5" y1="0" x2="256.5" y2="11.7" stroke="#0a8a14" stroke-width="1.2"/>
<rect x="254.3" y="2.4" width="4.4" height="7.4" fill="#4ee85a" stroke="#0a8a14" stroke-width="1.2"/>
<path d="M277.1,10.6 C279.5,9 281,5.2 283,5.2 S286.5,8.6 288.8,9.2" fill="none" stroke="#2a8f3a" stroke-width="1.2"/>
<!-- zoom in/out -->
<line x1="318" y1="10.3" x2="322.6" y2="14.4" stroke="#9a6a10" stroke-width="3.6" stroke-linecap="butt"/>
<line x1="318" y1="10.3" x2="322.4" y2="14.2" stroke="#ecd02a" stroke-width="2.2" stroke-linecap="butt"/>
<circle cx="314" cy="5.9" r="5.4" fill="#d9f0fb" stroke="#2b6fc6" stroke-width="1.2"/>
<path d="M310.4,5.9 H317.6 M314,2.3 V9.5" stroke="#3a86b4" stroke-width="1.7"/>
<line x1="346.1" y1="10.3" x2="350.7" y2="14.4" stroke="#9a6a10" stroke-width="3.6" stroke-linecap="butt"/>
<line x1="346.1" y1="10.3" x2="350.5" y2="14.2" stroke="#ecd02a" stroke-width="2.2" stroke-linecap="butt"/>
<circle cx="342.1" cy="5.9" r="5.4" fill="#d9f0fb" stroke="#2b6fc6" stroke-width="1.2"/>
<path d="M338.7,5.9 H345.5" stroke="#3a86b4" stroke-width="1.7"/>
<!-- tile windows -->
<rect x="364" y="0" width="8" height="8" fill="#3a9c1c"/><rect x="372" y="0" width="8" height="8" fill="#1f4fd2"/>
<rect x="364" y="8" width="8" height="8" fill="#1f4fd2"/><rect x="372" y="8" width="8" height="8" fill="#3a9c1c"/>
<g fill="#fff"><rect x="365.3" y="3.2" width="5.6" height="3.6" rx="0.8"/><rect x="373.2" y="3.2" width="5.6" height="3.6" rx="0.8"/><rect x="365.3" y="11" width="5.6" height="3.8" rx="0.8"/><rect x="373.2" y="11" width="5.6" height="3.8" rx="0.8"/></g>
<rect x="366.3" y="4.2" width="3.6" height="0.9" fill="#9ad07a"/><rect x="374.2" y="4.2" width="3.6" height="0.9" fill="#8aa6ee"/>
<rect x="366.3" y="12" width="3.6" height="0.9" fill="#8aa6ee"/><rect x="374.2" y="12" width="3.6" height="0.9" fill="#9ad07a"/>
<rect x="366.6" y="6" width="3" height="0.9" fill="#3a9c1c"/><rect x="374.5" y="6" width="3" height="0.9" fill="#1f4fd2"/>
<rect x="366.6" y="14" width="3" height="0.9" fill="#1f4fd2"/><rect x="374.5" y="14" width="3" height="0.9" fill="#3a9c1c"/>
<!-- autoscroll / shift -->
<polygon points="407.5,4.5 411,7.8 407.5,11" fill="#6fe884" stroke="#12921f" stroke-width="1"/>
<line x1="436.5" y1="2" x2="436.5" y2="11.8" stroke="#1a6aa8" stroke-width="1.2"/>
<path d="M442,7.5 H438 M439.6,5.8 L437.6,7.5 L439.6,9.2" fill="none" stroke="#c84a08" stroke-width="1.1"/>
<!-- indicators -->
<path d="M461.5,1.5 H468 L471.5,5 V13 H461.5 Z" fill="#fafafa" stroke="#8a8a8a" stroke-width="1"/>
<path d="M464,5 V10" stroke="#8a8a8a" stroke-width="1"/>
<path d="M470,5.5 h3.6 v3.8 h3.8 v3.6 h-3.8 v3.8 h-3.6 v-3.8 h-3.8 v-3.6 h3.8 z" fill="#3fd83f" stroke="#12961a" stroke-width="0.9"/>
<g fill="#000"><polygon points="483,7 489,7 486,10"/><polygon points="522,7 528,7 525,10"/><polygon points="561,7 567,7 564,10"/><polygon points="867,7 873,7 870,10"/></g>
<!-- clock -->
<circle cx="507" cy="8" r="7.3" fill="#2f6fd8" stroke="#1b4fae" stroke-width="0.8"/>
<circle cx="507" cy="8" r="5" fill="#f4f8ff"/>
<path d="M507,4.5 V8.3 H510" fill="none" stroke="#444" stroke-width="1.1"/>
<!-- templates -->
<rect x="538.5" y="1.5" width="15" height="13" fill="#fff" stroke="#4a86d0" stroke-width="1"/>
<rect x="538" y="1" width="16" height="2.5" fill="#3b7bd0"/>
<polyline points="540,7 543,6 545,7 548,5.5 552,5" fill="none" stroke="#c0392b" stroke-width="1.1"/>
<polyline points="540,12.5 543,11 545,12.5 548,10.5 552,12" fill="none" stroke="#27a12f" stroke-width="1.1"/>
<rect x="539" y="8.5" width="14" height="0.8" fill="#7aa5dc"/>
<!-- cursor -->
<polygon points="590,1.5 590,13 592.8,10.5 595,15.2 597,14.3 594.8,9.6 598.6,9.4" fill="#4c4c4c"/>
<!-- crosshair -->
<g stroke="#444" stroke-width="1" shape-rendering="crispEdges"><path d="M615,8.5 H630 M622.5,1 V16"/></g>
<!-- line tools -->
<g stroke="#444" stroke-width="1.1"><path d="M656.5,2 V14.5" shape-rendering="crispEdges"/><path d="M679,8.5 H691" shape-rendering="crispEdges"/><path d="M707,15 L719,3"/></g>
<g stroke="#444" stroke-width="0.9" fill="none"><path d="M732.7,9.7 L745.8,0.5 M734.7,15 L746.8,6.3 M736.4,6.8 L735.8,13.4 M739.8,4.8 L739.2,11.4 M743.2,2.4 L742.6,9 M744.8,0 V4.8"/></g>
<g stroke="#555" stroke-width="1" stroke-dasharray="1 1" shape-rendering="crispEdges"><path d="M762,1.5 H775 M762,4.5 H775 M762,8.5 H775 M762,12.5 H771"/></g>
<rect x="819.5" y="1.5" width="11" height="13" fill="none" stroke="#555" stroke-width="1" stroke-dasharray="1 1" shape-rendering="crispEdges"/>
<text x="743.6" y="17.3" font-family="'Liberation Sans',sans-serif" font-size="7" font-weight="bold" fill="#333">E</text><text x="771.6" y="17.3" font-family="'Liberation Sans',sans-serif" font-size="7" font-weight="bold" fill="#333">F</text>
<!-- arrows icon -->
<polygon points="846,4.5 849.5,1 853,4.5 849.5,6" fill="#444"/>
<polygon points="853,11.5 856.5,10 860,11.5 856.5,15" fill="#444"/>
<path d="M848,9 L850.5,11.5 L855.5,5.5" fill="none" stroke="#444" stroke-width="1.3"/>
<!-- search -->
<circle cx="1609.6" cy="5.6" r="3.6" fill="#f4f6ff" stroke="#2f62d2" stroke-width="1.2"/>
<line x1="1606.6" y1="8.6" x2="1602" y2="13" stroke="#2a58c8" stroke-width="2"/>
<!-- chat -->
<path d="M1626.5,10 a5.5,4.5 0 0 1 11,0 a5.5,4.5 0 0 1 -5.5,4.5 h-1.5 l-1.5,2 l-0.5,-2.3 a5,4.5 0 0 1 -2,-4.2 z" fill="#e6e8ee" stroke="#b8b8b8" stroke-width="0.8"/>
<circle cx="1640.5" cy="5.6" r="8.2" fill="url(#redg)"/>
</svg>
</div>

</body></html>
